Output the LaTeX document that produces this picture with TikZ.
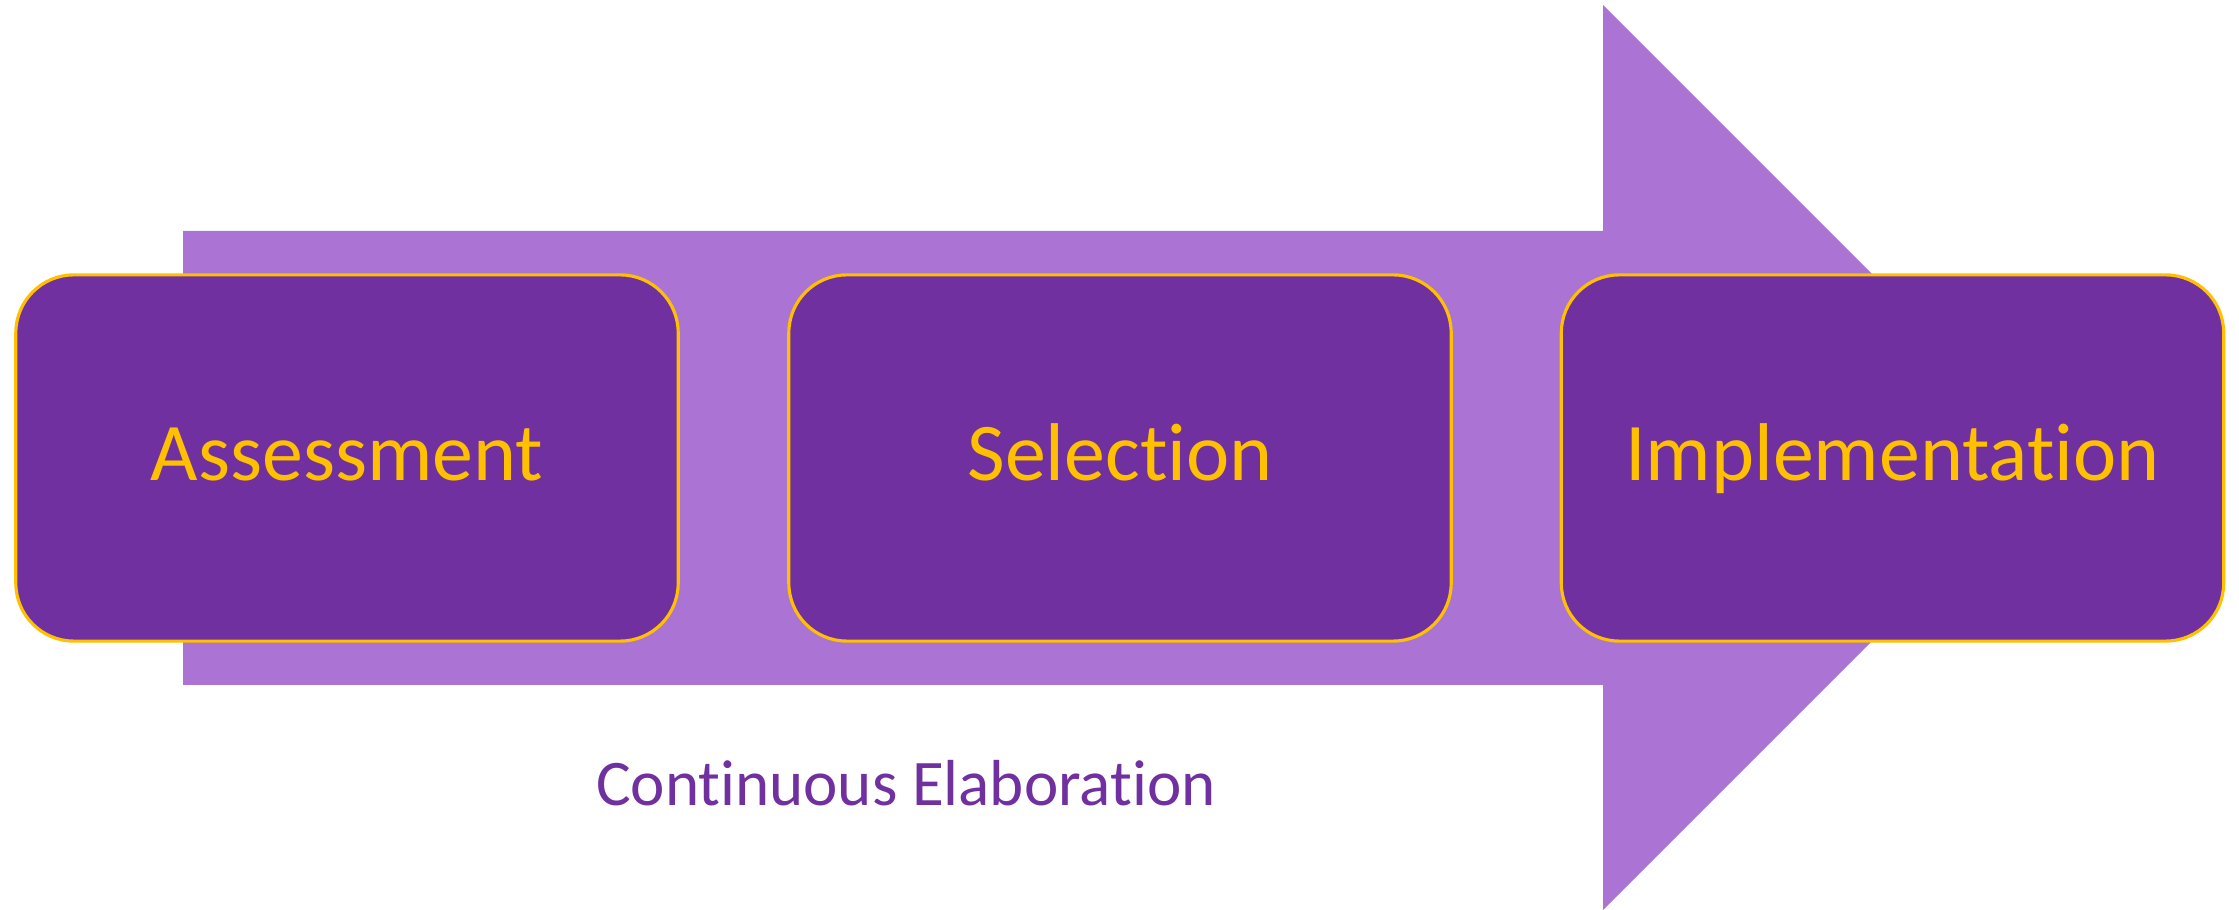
\documentclass[tikz,border=0pt]{standalone}
\usepackage{fontspec}
\setmainfont{Carlito}[Ligatures=NoCommon]
\definecolor{arrowfill}{RGB}{171,116,212}
\definecolor{boxfill}{HTML}{7030A0}
\definecolor{gold}{HTML}{FFC000}
\begin{document}
\begin{tikzpicture}[x=0.01cm,y=-0.01cm,
  stagebox/.style={rectangle, rounded corners=0.58cm, fill=boxfill, draw=gold,
    line width=0.9pt, minimum width=6.62cm, minimum height=3.66cm, inner sep=0pt,
    text=gold, font=\fontsize{23.3}{28}\selectfont, text height=0.44cm, text depth=0pt},
  bandlabel/.style={text=boxfill, font=\fontsize{18.5}{22}\selectfont, anchor=base, inner sep=0pt}]
\useasboundingbox (0,0) rectangle (2239,910);
\fill[arrowfill] (183,231) -- (1603,231) -- (1603,5) -- (2055.5,457.5) -- (1603,910) -- (1603,685) -- (183,685) -- cycle;
\node[stagebox] (assess) at (347,458) {Assessment};
\node[stagebox] (select) at (1120,458) {Selection};
\node[stagebox] (impl) at (1892.5,458) {Implementation};
\node[bandlabel] (cont) at (906,805) {Continuous Elaboration};
\end{tikzpicture}
\end{document}
